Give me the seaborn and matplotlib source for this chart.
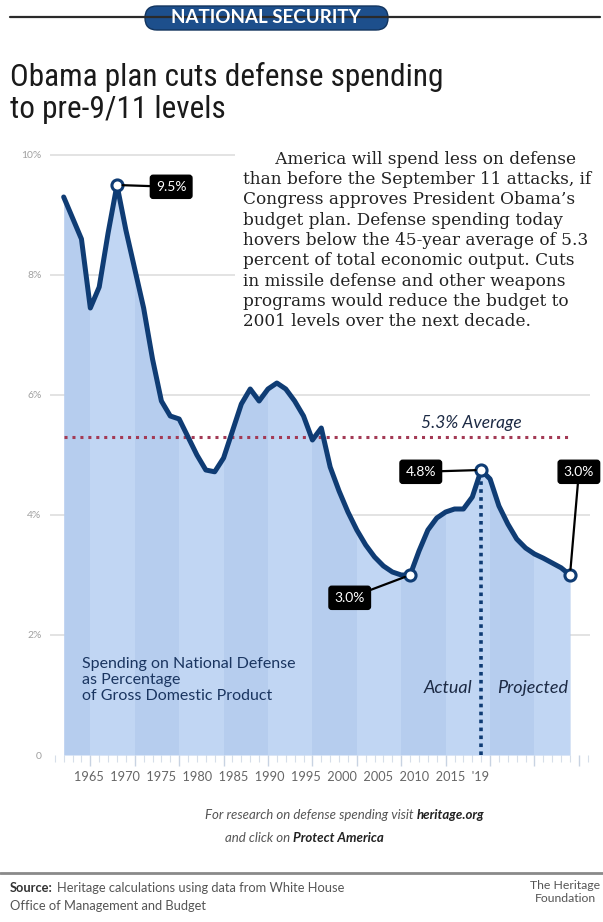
import numpy as np
import pandas as pd
import seaborn as sns
import matplotlib.pyplot as plt
from matplotlib.lines import Line2D
from matplotlib.patches import FancyBboxPatch
from matplotlib.ticker import MultipleLocator

years = list(range(1962, 2020))
pct = [9.3, 8.95, 8.6, 7.45, 7.8, 8.7, 9.5, 8.75, 8.1, 7.45,
       6.6, 5.9, 5.65, 5.6, 5.3, 5.0, 4.75, 4.72, 4.95, 5.4,
       5.85, 6.1, 5.9, 6.1, 6.2, 6.1, 5.9, 5.65, 5.25, 5.45,
       4.8, 4.4, 4.05, 3.75, 3.5, 3.3, 3.15, 3.05, 3.0, 3.0,
       3.4, 3.75, 3.95, 4.05, 4.1, 4.1, 4.3, 4.75, 4.6, 4.15,
       3.85, 3.6, 3.45, 3.35, 3.28, 3.2, 3.12, 3.0]
average = 5.3
split_year = 2009
callout_years = [1968, 2001, 2009, 2019]
callout_text = ["9.5%", "3.0%", "4.8%", "3.0%"]
ytick_vals = [0, 2, 4, 6, 8, 10]
ytick_labels = ["0", "2%", "4%", "6%", "8%", "10%"]
year_labels = ["1965", "1970", "1975", "1980", "1985", "1990", "1995",
               "2000", "2005", "2010", "2015", "'19"]

df = pd.DataFrame({"year": years, "pct": pct})

W, H = 603, 922
def fx(px):
    return px / W
def fy(py):
    return 1 - py / H

sns.set_theme(style="white")
plt.rcParams["font.family"] = ["Lato", "DejaVu Sans"]

navy = "#0f3c74"
fig = plt.figure(figsize=(W / 100, H / 100), dpi=100)
fig.patch.set_facecolor("white")

ax = fig.add_axes([fx(50), fy(755), 540 / W, 615 / H])
ax.set_xlim(1960.46, 2021.25)
ax.set_ylim(0, 10.25)

for v in ytick_vals[1:]:
    ax.axhline(v, color="#dedede", lw=1.2, zorder=0)

# area, with faint vertical bands clipped to it
area = ax.fill_between(df["year"], 0, df["pct"], color="#b6cdee", lw=0, zorder=1)
clip = (area.get_paths()[0], ax.transData)
for start in range(1965, 2020, 10):
    span = ax.axvspan(start, start + 5, color="#c1d6f3", lw=0, zorder=1.1)
    span.set_clip_path(*clip)

sns.lineplot(data=df, x="year", y="pct", ax=ax, color=navy, lw=3.6,
             zorder=4, solid_joinstyle="round", solid_capstyle="round")

ax.hlines(average, years[0], years[-1], color="#a33a55", lw=2.2,
          linestyles=(0, (1, 1.6)), zorder=3)
ax.text(2007.9, average + 0.1, f"{average}% Average", ha="center", va="bottom",
        fontsize=12.5, style="italic", color="#1c2a44", zorder=5)

split_val = pct[years.index(split_year)]
ax.vlines(split_year, 0, split_val, color=navy, lw=2.6,
          linestyles=(0, (1, 1.2)), zorder=3)
ax.text(split_year - 1.0, 1.12, "Actual", ha="right", va="center",
        fontsize=13, style="italic", color="#1c2a44")
ax.text(split_year + 1.8, 1.12, "Projected", ha="left", va="center",
        fontsize=13, style="italic", color="#1c2a44")

ax.text(1964.1, 1.25, "Spending on National Defense\nas Percentage\nof Gross Domestic Product",
        ha="left", va="center", fontsize=11.5, color="#1a3560", linespacing=1.2)

cvals = [pct[years.index(y)] for y in callout_years]
ax.plot(callout_years, cvals, "o", ms=8, mfc="white", mec=navy, mew=2.2, zorder=6)
box_pos = [(1974.1, 9.47), (1994.2, 2.62), (2002.2, 4.72), (2020.0, 4.72)]
for yr, val, txt, pos in zip(callout_years, cvals, callout_text, box_pos):
    ax.annotate(txt, xy=(yr, val), xytext=pos, ha="center", va="center",
                fontsize=10, color="white", zorder=7,
                bbox=dict(boxstyle="round,pad=0.4,rounding_size=0.2", fc="black", ec="black"),
                arrowprops=dict(arrowstyle="-", color="black", lw=1.6,
                                shrinkA=0, shrinkB=4))

ax.set_yticks(ytick_vals)
ax.set_yticklabels(ytick_labels)
ax.tick_params(axis="y", length=0, pad=6, labelsize=7.5, labelcolor="#a0a0a0")
ax.xaxis.set_major_locator(MultipleLocator(5))
ax.xaxis.set_minor_locator(MultipleLocator(1))
ax.tick_params(axis="x", which="major", bottom=True, length=8, width=1,
               color="#c8d3e2", labelbottom=False, direction="out")
ax.tick_params(axis="x", which="minor", bottom=True, length=5, width=0.8,
               color="#d6dee9", direction="out")
ax.set_xlabel("")
ax.set_ylabel("")
for s in ax.spines.values():
    s.set_visible(False)

fig.text(fx(282), fy(777), "  ".join(year_labels), ha="center", va="center",
         fontsize=9.2, color="#666666")

# header band with rounded pill
fig.add_artist(Line2D([fx(10), fx(600)], [fy(17), fy(17)], color="#2a2a2a", lw=1.6))
fig.add_artist(FancyBboxPatch((1.45, (H - 30) / 100), 2.43, 0.24,
                              boxstyle="round,pad=0,rounding_size=0.12",
                              fc="#1d4f8c", ec="#12345e", lw=1,
                              transform=fig.dpi_scale_trans))
fig.text(fx(266), fy(17.5), "NATIONAL SECURITY", ha="center", va="center",
         fontsize=13.5, fontweight="bold", color="white")

title_font = dict(fontsize=22.5, color="#1a1a1a",
                  family=["Roboto Condensed", "Liberation Sans", "DejaVu Sans"])
fig.text(fx(10), fy(77), "Obama plan cuts defense spending", ha="left", va="center", **title_font)
fig.text(fx(10), fy(110), "to pre-9/11 levels", ha="left", va="center", **title_font)

para = ("      America will spend less on defense\n"
        "than before the September 11 attacks, if\n"
        "Congress approves President Obama\u2019s\n"
        "budget plan. Defense spending today\n"
        "hovers below the 45-year average of 5.3\n"
        "percent of total economic output. Cuts\n"
        "in missile defense and other weapons\n"
        "programs would reduce the budget to\n"
        "2001 levels over the next decade.")
fig.text(fx(243), fy(151), para, ha="left", va="top", fontsize=12.2,
         color="#222222", linespacing=1.25, family=["DejaVu Serif"],
         bbox=dict(fc="white", ec="none", pad=6))

note = dict(fontsize=9.5, style="italic", va="center")
fig.text(fx(417), fy(815), "For research on defense spending visit ", ha="right",
         color="#555555", **note)
fig.text(fx(417), fy(815), "heritage.org", ha="left", fontweight="bold",
         color="#222222", **note)
fig.text(fx(293), fy(838), "and click on ", ha="right", color="#555555", **note)
fig.text(fx(293), fy(838), "Protect America", ha="left", fontweight="bold",
         color="#222222", **note)

fig.add_artist(Line2D([0, 1], [fy(873), fy(873)], color="#8a8a8a", lw=2))
foot = dict(fontsize=9.3, va="center")
fig.text(fx(10), fy(888), "Source:", ha="left", fontweight="bold", color="#333333", **foot)
fig.text(fx(57), fy(888), "Heritage calculations using data from White House",
         ha="left", color="#555555", **foot)
fig.text(fx(10), fy(906), "Office of Management and Budget", ha="left",
         color="#555555", **foot)
fig.text(fx(565), fy(880), "The Heritage\nFoundation", ha="center", va="top",
         fontsize=8.8, color="#555555", linespacing=1.25)

fig.savefig("out.png", dpi=100)
